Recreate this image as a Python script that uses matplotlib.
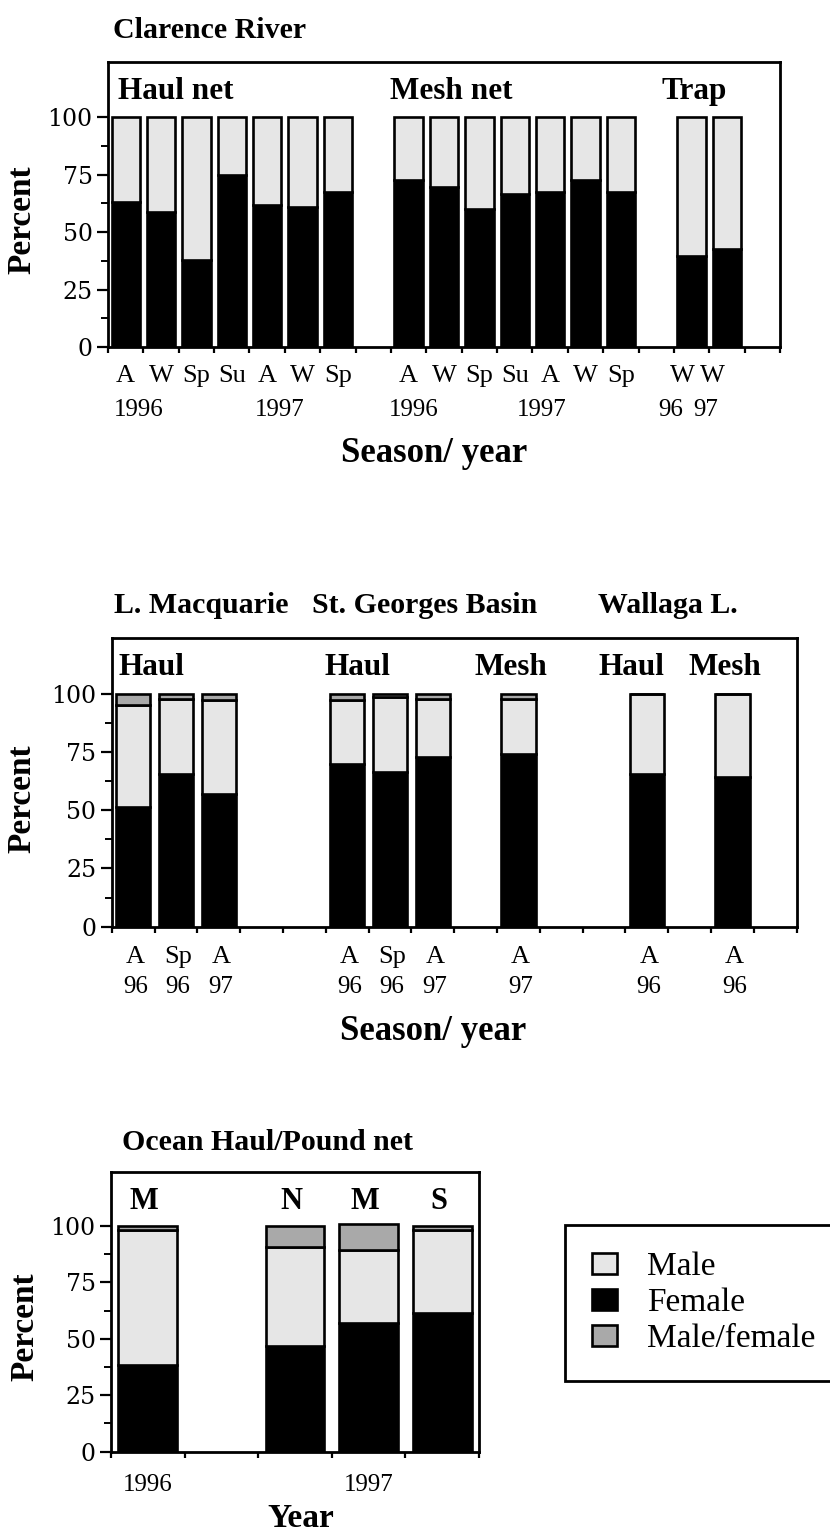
import matplotlib
matplotlib.use('Agg')
import matplotlib.pyplot as plt
from matplotlib.patches import Patch
from matplotlib.ticker import FixedLocator

plt.rcParams['font.family'] = ['Liberation Serif', 'DejaVu Serif']

# ---- Clarence River (percent female / male per season) ----
clar_seasons = ['A', 'W', 'Sp', 'Su', 'A', 'W', 'Sp',
                'A', 'W', 'Sp', 'Su', 'A', 'W', 'Sp',
                'W', 'W']
clar_female = [63.0, 58.7, 37.7, 75.0, 62.0, 60.9, 67.4,
               72.5, 69.6, 60.2, 66.4, 67.3, 72.5, 67.3,
               39.6, 42.8]
clar_male = [37.0, 41.3, 62.3, 25.0, 38.0, 39.1, 32.6,
             27.5, 30.4, 39.8, 33.6, 32.7, 27.5, 32.7,
             60.4, 57.2]
clar_years = ['1996', '1997', '1996', '1997', '96', '97']

# ---- L. Macquarie / St. Georges Basin / Wallaga L. ----
est_seasons = ['A', 'Sp', 'A', 'A', 'Sp', 'A', 'A', 'A', 'A']
est_years = ['96', '96', '97', '96', '96', '97', '97', '96', '96']
est_female = [51.5, 65.4, 57.1, 69.7, 66.4, 73.0, 74.0, 65.4, 64.4]
est_male = [43.6, 32.6, 40.4, 27.8, 32.1, 25.0, 24.0, 34.6, 35.6]
est_mf = [4.9, 2.0, 2.5, 2.5, 1.5, 2.0, 2.0, 0.0, 0.0]

# ---- Ocean Haul/Pound net ----
ocean_letters = ['M', 'N', 'M', 'S']
ocean_female = [38.4, 46.8, 56.9, 61.6]
ocean_male = [59.8, 43.8, 32.5, 36.6]
ocean_mf = [1.8, 9.4, 11.4, 1.8]
ocean_years = ['1996', '1997']

MALE_C = '#e6e6e6'
FEMALE_C = 'black'
MF_C = '#a9a9a9'
W = 0.8
YMAX = 124
LW = 1.9


def px_axes(left, top, right, bottom):
    # axes placed by pixel box of the 830x1534 canvas
    return fig.add_axes([left / 830, 1 - bottom / 1534,
                         (right - left) / 830, (bottom - top) / 1534])


def stack(ax, pos, female, male, mf=None):
    ax.bar(pos, female, W, color=FEMALE_C, edgecolor='black', lw=LW,
           align='edge', zorder=2)
    ax.bar(pos, male, W, bottom=female, color=MALE_C, edgecolor='black',
           lw=LW, align='edge', zorder=2)
    if mf is not None:
        bot = [f + m for f, m in zip(female, male)]
        ax.bar(pos, mf, W, bottom=bot, color=MF_C, edgecolor='black',
               lw=LW, align='edge', zorder=2)


def style(ax, nslots, ylab_x):
    ax.set_xlim(0, nslots)
    ax.set_ylim(0, YMAX)
    for s in ax.spines.values():
        s.set_linewidth(2)
    ax.xaxis.set_major_locator(FixedLocator(range(nslots + 1)))
    ax.set_xticklabels([])
    ax.tick_params(axis='x', direction='out', length=4, width=1.6)
    ax.set_yticks([0, 25, 50, 75, 100])
    ax.yaxis.set_minor_locator(FixedLocator([12.5, 37.5, 62.5, 87.5]))
    ax.tick_params(axis='y', which='major', direction='out', length=8,
                   width=1.6, labelsize=17, pad=3)
    ax.tick_params(axis='y', which='minor', direction='out', length=5,
                   width=1.4)
    for t in ax.get_yticklabels():
        t.set_family('DejaVu Serif')
    ax.text(ylab_x, 0.445, 'Percent', transform=ax.transAxes, rotation=90,
            ha='center', va='center', fontsize=24, fontweight='bold')


fig = plt.figure(figsize=(8.3, 15.34), dpi=100)

# ================= Clarence River =================
ax1 = px_axes(108, 62, 780, 347)
pos1 = [s + (1 - W) / 2 for s in list(range(0, 7)) + list(range(8, 15)) + [16, 17]]
stack(ax1, pos1, clar_female, clar_male)
style(ax1, 19, -0.128)

tr1 = ax1.get_xaxis_transform()
season_x1 = [p + W / 2 for p in pos1[:14]] + [16.24, 17.09]
for x, s in zip(season_x1, clar_seasons):
    ax1.text(x, -0.102, s, transform=tr1, ha='center', va='center', fontsize=19)
for x, y in zip([0.88, 4.86, 8.64, 12.26, 15.9, 16.89], clar_years):
    ax1.text(x, -0.221, y, transform=tr1, ha='center', va='center', fontsize=18)
ax1.text(0.485, -0.372, 'Season/ year', transform=ax1.transAxes, ha='center',
         va='center', fontsize=25, fontweight='bold')
ax1.text(0.007, 1.112, 'Clarence River', transform=ax1.transAxes,
         va='center', fontsize=21.5, fontweight='bold')
for x, lab in zip([0.28, 7.97, 15.64], ['Haul net', 'Mesh net', 'Trap']):
    ax1.text(x, 111, lab, va='center', fontsize=22.5, fontweight='bold')

# ================= Estuaries =================
ax2 = px_axes(111.7, 638, 796.7, 926.7)
pos2 = [s + (1 - W) / 2 for s in [0, 1, 2, 5, 6, 7, 9, 12, 14]]
stack(ax2, pos2, est_female, est_male, est_mf)
style(ax2, 16, -0.131)

tr2 = ax2.get_xaxis_transform()
for p, s, y in zip(pos2, est_seasons, est_years):
    ax2.text(p + W / 2 + 0.05, -0.104, s, transform=tr2, ha='center',
             va='center', fontsize=19)
    ax2.text(p + W / 2 + 0.05, -0.208, y, transform=tr2, ha='center',
             va='center', fontsize=18)
ax2.text(0.469, -0.364, 'Season/ year', transform=ax2.transAxes, ha='center',
         va='center', fontsize=25, fontweight='bold')
for x, lab in zip([0.0034, 0.2925, 0.71],
                  ['L. Macquarie', 'St. Georges Basin', 'Wallaga L.']):
    ax2.text(x, 1.114, lab, transform=ax2.transAxes, va='center',
             fontsize=21.5, fontweight='bold')
for x, lab in zip([0.17, 4.98, 8.47, 11.36, 13.47],
                  ['Haul', 'Haul', 'Mesh', 'Haul', 'Mesh']):
    ax2.text(x, 111.5, lab, va='center', fontsize=22.5, fontweight='bold')

# ================= Ocean Haul/Pound net =================
ax3 = px_axes(111, 1171.7, 479, 1451.7)
pos3 = [s + (1 - W) / 2 for s in [0, 2, 3, 4]]
stack(ax3, pos3, ocean_female, ocean_male, ocean_mf)
style(ax3, 5, -0.234)

tr3 = ax3.get_xaxis_transform()
for p, lab in zip(pos3, ocean_letters):
    ax3.text(p + W / 2 - 0.05, 110.8, lab, ha='center', va='center',
             fontsize=22, fontweight='bold')
for x, y in zip([pos3[0] + W / 2, pos3[2] + W / 2], ocean_years):
    ax3.text(x, -0.119, y, transform=tr3, ha='center', va='center', fontsize=18)
ax3.text(0.516, -0.24, 'Year', transform=ax3.transAxes, ha='center',
         va='center', fontsize=24, fontweight='bold')
ax3.text(0.03, 1.1025, 'Ocean Haul/Pound net', transform=ax3.transAxes,
         va='center', fontsize=21.5, fontweight='bold')

handles = [Patch(facecolor=MALE_C, edgecolor='black', lw=LW, label='Male'),
           Patch(facecolor=FEMALE_C, edgecolor='black', lw=LW, label='Female'),
           Patch(facecolor=MF_C, edgecolor='black', lw=LW, label='Male/female')]
leg = fig.legend(handles=handles, loc='upper left',
                 bbox_to_anchor=(565 / 830, 1 - 1225 / 1534),
                 fontsize=24, frameon=True, fancybox=False, framealpha=1,
                 edgecolor='black', borderpad=0.8, labelspacing=0.16,
                 handlelength=0.75, handleheight=0.6, handletextpad=0.9,
                 borderaxespad=0)
leg.get_frame().set_linewidth(2)

fig.savefig('out.png', dpi=100)
